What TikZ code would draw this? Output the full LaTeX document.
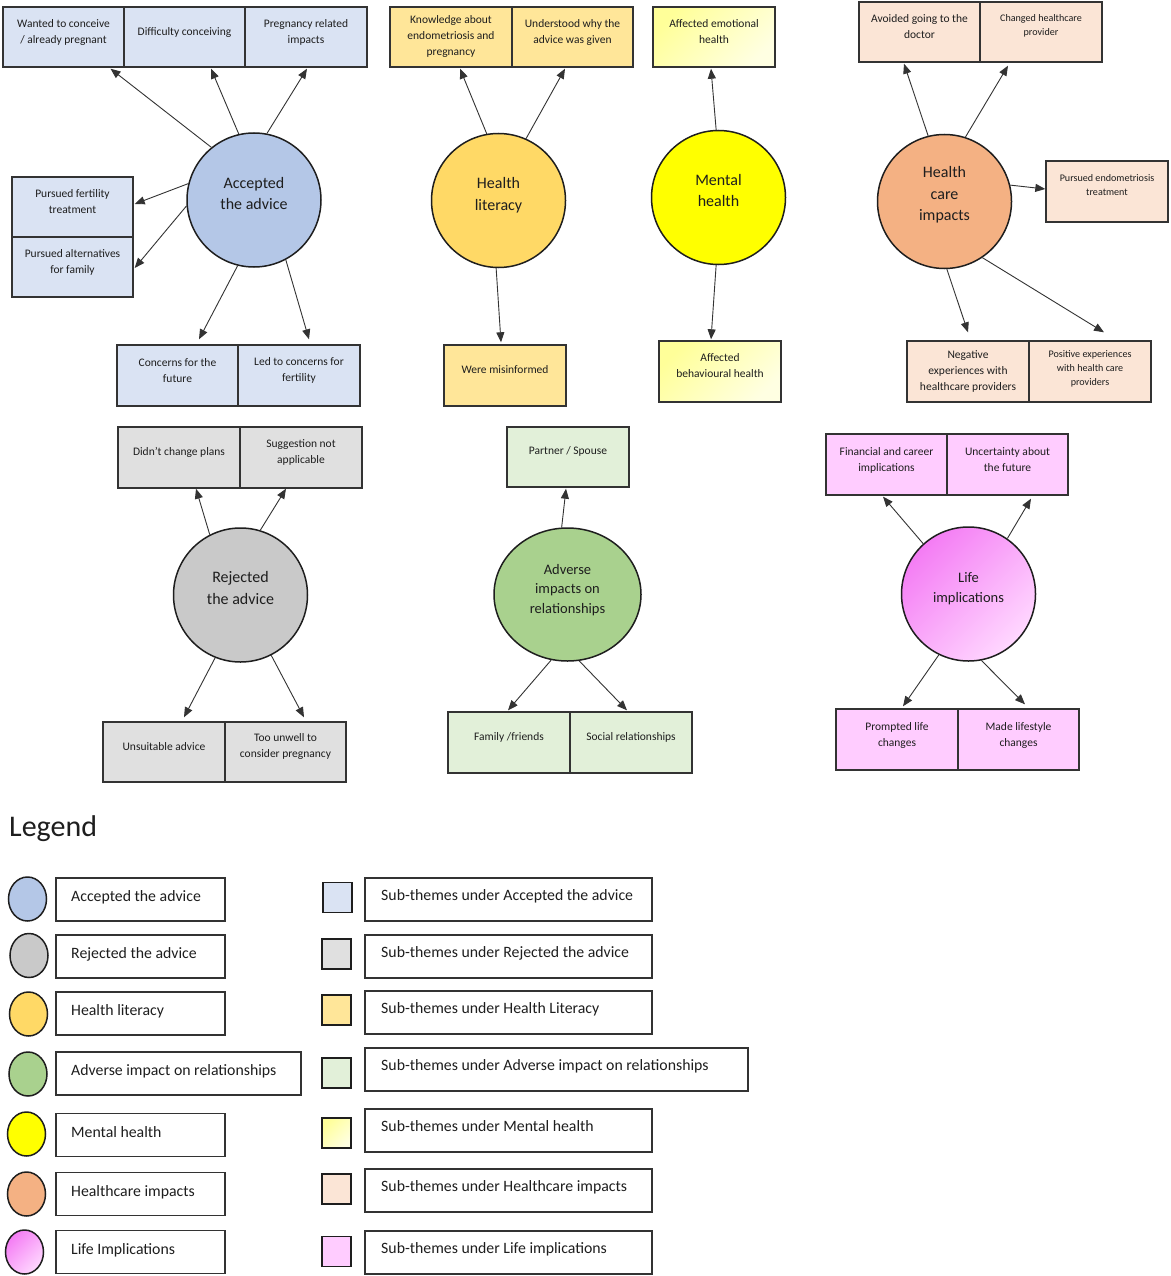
\documentclass[tikz,border=0pt]{standalone}
\usepackage{fontspec}
\setmainfont{Carlito}
\usetikzlibrary{arrows.meta,shapes.geometric}
\definecolor{accC}{HTML}{B4C7E7}
\definecolor{accS}{HTML}{DAE3F3}
\definecolor{rejC}{HTML}{C9C9C9}
\definecolor{rejS}{HTML}{E0E0E0}
\definecolor{hlC}{HTML}{FFD966}
\definecolor{hlS}{HTML}{FFE699}
\definecolor{mhC}{HTML}{FFFF00}
\definecolor{mhSa}{HTML}{FFFF99}
\definecolor{mhSb}{HTML}{FFFFE2}
\definecolor{hcC}{HTML}{F4B183}
\definecolor{hcS}{HTML}{FBE5D6}
\definecolor{advC}{HTML}{A9D18E}
\definecolor{advS}{HTML}{E2F0D9}
\definecolor{lifeA}{HTML}{F47CF4}
\definecolor{lifeB}{HTML}{FFD8FF}
\definecolor{lifeS}{HTML}{FFCCFF}
\definecolor{edge}{HTML}{333333}
\definecolor{ink}{HTML}{1E1E1E}
\newcommand\sbx[9]{%
  \node[sbox,#6,minimum width=#4pt,minimum height=#5pt] (#1) at (#2,#3) {};
  \node[stext,#7] (#1t) at ([yshift=#8pt]#1.center) {#9};}
\begin{document}
\begin{tikzpicture}[x=1pt,y=-1pt,
  sbox/.style={rectangle,draw=edge,line width=1.4pt,inner sep=0pt},
  stext/.style={text=ink,align=center,inner sep=0pt,font=\fontsize{11.5}{16}\selectfont},
  small/.style={font=\fontsize{10.1}{14}\selectfont},
  theme/.style={circle,draw=ink,line width=1.5pt,minimum size=134pt,inner sep=0pt},
  ttext/.style={text=ink,align=center,inner sep=0pt,font=\fontsize{16}{21.5}\selectfont},
  ttsmall/.style={font=\fontsize{14.5}{19.7}\selectfont},
  arr/.style={draw=edge,line width=0.9pt,-{Triangle[length=10pt,width=8pt]}},
  mhbox/.style={top color=mhSa,bottom color=mhSb,shading angle=45},
  lifebox/.style={fill=lifeS},
  lifeball/.style={top color=lifeA,bottom color=lifeB,shading angle=45},
  lcirc/.style={ellipse,draw=ink,line width=1.5pt,minimum width=38pt,minimum height=44pt,inner sep=0pt},
  lsq/.style={rectangle,draw=ink,line width=1.8pt,minimum width=29pt,minimum height=30pt,inner sep=0pt},
  lframe/.style={rectangle,draw=edge,line width=1.4pt,minimum height=43pt,inner sep=0pt},
  ltext/.style={anchor=base west,text=ink,inner sep=0pt,font=\fontsize{15.8}{19}\selectfont}]
\fill[white] (0,0) rectangle (1170,1276);
\useasboundingbox (0,0) rectangle (1170,1276);

% ---------- theme circles ----------
\node[theme,fill=accC] (acc) at (254,200) {};
\node[ttext] (acct) at ([yshift=6.5pt]acc.center) {Accepted\\the advice};
\node[theme,fill=hlC] (hl) at (498.5,200.5) {};
\node[ttext] (hlt) at ([yshift=5.4pt]hl.center) {Health\\literacy};
\node[theme,fill=mhC] (mh) at (718.5,197.5) {};
\node[ttext] (mht) at ([yshift=7pt]mh.center) {Mental\\health};
\node[theme,fill=hcC] (hc) at (944.5,201.5) {};
\node[ttext] (hct) at ([yshift=6.4pt]hc.center) {Health\\care\\impacts};
\node[theme,fill=rejC] (rej) at (240.5,595) {};
\node[ttext] (rejt) at ([yshift=7pt]rej.center) {Rejected\\the advice};
\node[theme,ellipse,minimum width=147pt,minimum height=133pt,fill=advC] (adv) at (567.5,594.5) {};
\node[ttext,ttsmall] (advt) at ([yshift=4.5pt]adv.center) {Adverse\\impacts on\\relationships};
\node[theme,lifeball] (life) at (968.5,594) {};
\node[ttext,ttsmall] (lifet) at ([yshift=5pt]life.center) {Life\\implications};

% ---------- sub-theme boxes ----------
\sbx{a1}{63.5}{37}{121}{60}{fill=accS}{}{5}{Wanted to conceive\\/ already pregnant}
\sbx{a2}{184.5}{37}{121}{60}{fill=accS}{}{5}{Difficulty conceiving}
\sbx{a3}{306}{37}{122}{60}{fill=accS}{}{5}{Pregnancy related\\impacts}
\sbx{a4}{72.5}{207}{121}{60}{fill=accS}{}{5}{Pursued fertility\\treatment}
\sbx{a5}{72.5}{267}{121}{60}{fill=accS}{}{5}{Pursued alternatives\\for family}
\sbx{a6}{177.5}{375.5}{121}{61}{fill=accS}{}{5}{Concerns for the\\future}
\sbx{a7}{299}{375.5}{122}{61}{fill=accS}{}{5}{Led to concerns for\\fertility}

\sbx{h1}{451}{37}{122}{60}{fill=hlS}{}{0.5}{Knowledge about\\endometriosis and\\pregnancy}
\sbx{h2}{572.5}{37}{121}{60}{fill=hlS}{}{5}{Understood why the\\advice was given}
\sbx{h3}{505}{375.5}{122}{61}{fill=hlS}{}{6}{Were misinformed}

\sbx{m1}{714}{37}{122}{60}{mhbox}{}{5}{Affected emotional\\health}
\sbx{m2}{720}{371.5}{122}{61}{mhbox}{}{5.5}{Affected\\behavioural health}

\sbx{c1}{919.5}{32}{121}{60}{fill=hcS}{}{5.5}{Avoided going to the\\doctor}
\sbx{c2}{1041}{32}{122}{60}{fill=hcS}{small}{6}{Changed healthcare\\provider}
\sbx{c3}{1107}{191.5}{122}{61}{fill=hcS}{small}{6}{Pursued endometriosis\\treatment}
\sbx{c4}{968}{371.5}{122}{61}{fill=hcS}{}{0}{Negative\\experiences with\\healthcare providers}
\sbx{c5}{1090}{371.5}{122}{61}{fill=hcS}{small}{2.7}{Positive experiences\\with health care\\providers}

\sbx{r1}{179}{457.5}{122}{61}{fill=rejS}{}{5}{Didn’t change plans}
\sbx{r2}{301}{457.5}{122}{61}{fill=rejS}{}{5}{Suggestion not\\applicable}
\sbx{r3}{164}{752}{122}{60}{fill=rejS}{}{5}{Unsuitable advice}
\sbx{r4}{285.5}{752}{121}{60}{fill=rejS}{}{5.5}{Too unwell to\\consider pregnancy}

\sbx{d1}{568}{457}{122}{60}{fill=advS}{}{5.5}{Partner / Spouse}
\sbx{d2}{509}{742.5}{122}{61}{fill=advS}{}{5.5}{Family /friends}
\sbx{d3}{631}{742.5}{122}{61}{fill=advS}{}{5.5}{Social relationships}

\sbx{l1}{886.5}{464.5}{121}{61}{lifebox}{}{4.5}{Financial and career\\implications}
\sbx{l2}{1007.5}{464.5}{121}{61}{lifebox}{}{4.5}{Uncertainty about\\the future}
\sbx{l3}{897}{739.5}{122}{61}{lifebox}{}{4.5}{Prompted life\\changes}
\sbx{l4}{1018.5}{739.5}{121}{61}{lifebox}{}{4.5}{Made lifestyle\\changes}

% ---------- connectors ----------
\draw[arr] (acc.129) -- ([xshift=47pt,yshift=-1pt]a1.south);
\draw[arr] (acc.103) -- ([xshift=26.5pt,yshift=-1pt]a2.south);
\draw[arr] (acc.79) -- ([xshift=1pt,yshift=-1pt]a3.south);
\draw[arr] (acc.166) -- ([xshift=1pt,yshift=3pt]a4.east);
\draw[arr] (acc.185) -- ([xshift=1pt,yshift=-1pt]a5.east);
\draw[arr] (acc.256) -- ([xshift=21.5pt,yshift=5pt]a6.north);
\draw[arr] (acc.298) -- ([xshift=10pt,yshift=5pt]a7.north);

\draw[arr] (hl.100) -- ([xshift=9pt,yshift=-1pt]h1.south);
\draw[arr] (hl.66) -- ([xshift=-7.5pt,yshift=-1pt]h2.south);
\draw[arr] (hl.268) -- ([xshift=-4pt,yshift=2pt]h3.north);

\draw[arr] (mh.92) -- ([xshift=-3pt,yshift=-1pt]m1.south);
\draw[arr] (mh.268) -- ([xshift=-9pt,yshift=1pt]m2.north);

\draw[arr] (hc.104) -- ([xshift=-15.5pt,yshift=-1pt]c1.south);
\draw[arr] (hc.72) -- ([xshift=-33pt,yshift=-3pt]c2.south);
\draw[arr] (hc.14) -- ([yshift=2.5pt]c3.west);
\draw[arr] (hc.272) -- ([yshift=8pt]c4.north);
\draw[arr] (hc.304) -- ([xshift=14pt,yshift=8pt]c5.north);

\draw[arr] (rej.117) -- ([xshift=17pt]r1.south);
\draw[arr] (rej.73) -- ([xshift=-15pt]r2.south);
\draw[arr] (rej.248) -- ([xshift=20pt,yshift=4pt]r3.north);
\draw[arr] (rej.297) -- ([xshift=18.5pt,yshift=4pt]r4.north);

\draw[arr] (adv.95) -- ([xshift=-2pt,yshift=-1pt]d1.south);
\draw[arr] (adv.256) -- ([xshift=-1pt,yshift=1pt]d2.north);
\draw[arr] (adv.280) -- ([xshift=-4pt,yshift=1pt]d3.north);

\draw[arr] (life.132) -- ([xshift=-3.5pt,yshift=-1pt]l1.south);
\draw[arr] (life.55) -- ([xshift=23.5pt,yshift=-3pt]l2.south);
\draw[arr] (life.244) -- ([xshift=6pt,yshift=2pt]l3.north);
\draw[arr] (life.281) -- ([xshift=6.5pt,yshift=4pt]l4.north);

% ---------- legend ----------
\node[anchor=base west,text=ink,inner sep=0pt,font=\fontsize{30}{36}\selectfont] (legend) at (9,836) {Legend};

\node[lcirc,fill=accC] (lc1) at (27.5,899) {};
\node[lcirc,fill=rejC] (lc2) at (29,955.5) {};
\node[lcirc,fill=hlC] (lc3) at (28.5,1014) {};
\node[lcirc,fill=advC] (lc4) at (28,1074) {};
\node[lcirc,fill=mhC] (lc5) at (26.5,1134) {};
\node[lcirc,fill=hcC] (lc6) at (26.5,1194) {};
\node[lcirc,lifeball] (lc7) at (24.5,1252) {};

\node[lframe,minimum width=169pt] (lb1) at (140.5,899.5) {};
\node[lframe,minimum width=169pt] (lb2) at (140.5,956.5) {};
\node[lframe,minimum width=169pt] (lb3) at (140.5,1013.5) {};
\node[lframe,minimum width=245pt] (lb4) at (178.5,1073.5) {};
\node[lframe,minimum width=169pt] (lb5) at (140.5,1135) {};
\node[lframe,minimum width=169pt] (lb6) at (140.5,1194) {};
\node[lframe,minimum width=169pt] (lb7) at (140.5,1252) {};
\node[ltext] (lt1) at (71,901) {Accepted the advice};
\node[ltext] (lt2) at (71,958) {Rejected the advice};
\node[ltext] (lt3) at (71,1015) {Health literacy};
\node[ltext] (lt4) at (71,1075) {Adverse impact on relationships};
\node[ltext] (lt5) at (71,1137) {Mental health};
\node[ltext] (lt6) at (71,1196) {Healthcare impacts};
\node[ltext] (lt7) at (71,1254) {Life Implications};

\node[lsq,fill=accS] (ls1) at (337.5,897.5) {};
\node[lsq,fill=rejS] (ls2) at (336.5,954) {};
\node[lsq,fill=hlS] (ls3) at (336.5,1010) {};
\node[lsq,fill=advS] (ls4) at (336.5,1073) {};
\node[lsq,mhbox] (ls5) at (336.5,1133) {};
\node[lsq,fill=hcS] (ls6) at (336.5,1189) {};
\node[lsq,lifebox] (ls7) at (336.5,1251.5) {};

\node[lframe,minimum width=287pt] (sb1) at (508.5,899.5) {};
\node[lframe,minimum width=287pt] (sb2) at (508.5,956.5) {};
\node[lframe,minimum width=287pt] (sb3) at (508.5,1012.5) {};
\node[lframe,minimum width=383pt] (sb4) at (556.5,1069.5) {};
\node[lframe,minimum width=287pt] (sb5) at (508.5,1130.5) {};
\node[lframe,minimum width=287pt] (sb6) at (508.5,1190.5) {};
\node[lframe,minimum width=287pt] (sb7) at (508.5,1252.5) {};
\node[ltext] (st1) at (381,900) {Sub-themes under Accepted the advice};
\node[ltext] (st2) at (381,957) {Sub-themes under Rejected the advice};
\node[ltext] (st3) at (381,1013) {Sub-themes under Health Literacy};
\node[ltext] (st4) at (381,1070) {Sub-themes under Adverse impact on relationships};
\node[ltext] (st5) at (381,1131) {Sub-themes under Mental health};
\node[ltext] (st6) at (381,1191) {Sub-themes under Healthcare impacts};
\node[ltext] (st7) at (381,1253) {Sub-themes under Life implications};
\end{tikzpicture}
\end{document}
